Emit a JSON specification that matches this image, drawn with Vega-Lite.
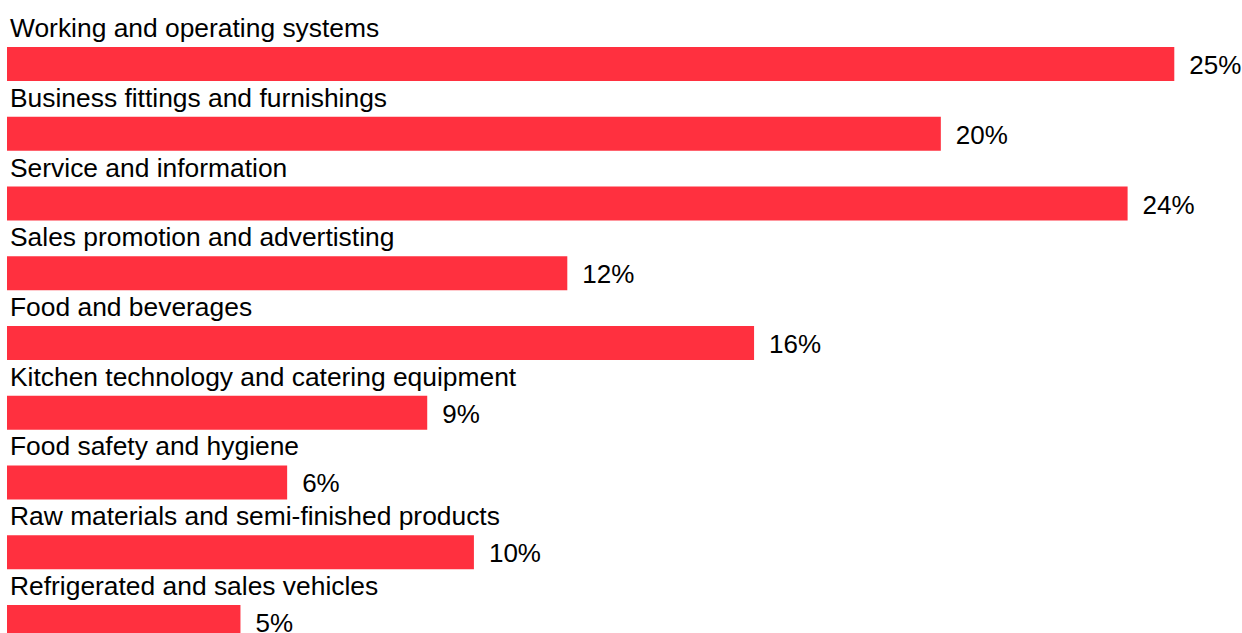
{
  "$schema": "https://vega.github.io/schema/vega-lite/v6.json",
  "autosize": {"type": "none"},
  "padding": {"left": 7, "top": 47, "right": 0, "bottom": 0},
  "width": 1235,
  "height": 592,
  "background": "white",
  "config": {"view": {"stroke": null}},
  "data": {
    "values": [
      {"category": "Working and operating systems", "value": 25},
      {"category": "Business fittings and furnishings", "value": 20},
      {"category": "Service and information", "value": 24},
      {"category": "Sales promotion and advertisting", "value": 12},
      {"category": "Food and beverages", "value": 16},
      {"category": "Kitchen technology and catering equipment", "value": 9},
      {"category": "Food safety and hygiene", "value": 6},
      {"category": "Raw materials and semi-finished products", "value": 10},
      {"category": "Refrigerated and sales vehicles", "value": 5}
    ]
  },
  "encoding": {
    "y": {
      "field": "category",
      "type": "nominal",
      "sort": null,
      "axis": null,
      "scale": {"paddingInner": 0.5125, "paddingOuter": 0}
    }
  },
  "layer": [
    {
      "mark": {"type": "bar", "color": "#FF303F"},
      "encoding": {
        "x": {
          "field": "value",
          "type": "quantitative",
          "axis": null,
          "scale": {"domain": [0, 26.45], "nice": false, "zero": true}
        }
      }
    },
    {
      "mark": {
        "type": "text",
        "align": "left",
        "baseline": "alphabetic",
        "dx": 3,
        "dy": -27,
        "font": "Liberation Sans",
        "fontSize": 26.4,
        "color": "black"
      },
      "encoding": {
        "x": {"datum": 0, "type": "quantitative"},
        "text": {"field": "category"}
      }
    },
    {
      "mark": {
        "type": "text",
        "align": "left",
        "baseline": "alphabetic",
        "dx": 15,
        "dy": 10,
        "font": "Liberation Sans",
        "fontSize": 26,
        "color": "black"
      },
      "encoding": {
        "x": {"field": "value", "type": "quantitative"},
        "text": {"field": "label"}
      },
      "transform": [{"calculate": "datum.value + '%'", "as": "label"}]
    }
  ]
}
